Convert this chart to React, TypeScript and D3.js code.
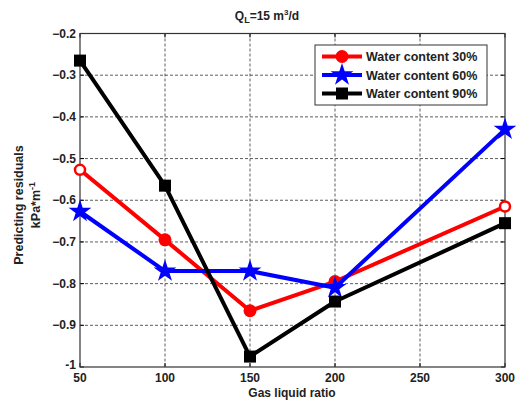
import React from 'react';
import * as d3 from 'd3';

// values
const gasLiquidRatio = [50, 100, 150, 200, 300];
const water30 = [-0.527, -0.695, -0.865, -0.795, -0.615];
const water60 = [-0.627, -0.77, -0.77, -0.81, -0.43];
const water90 = [-0.265, -0.565, -0.975, -0.843, -0.655];
const xTicks = [50, 100, 150, 200, 250, 300];
const yTicks = [-0.2, -0.3, -0.4, -0.5, -0.6, -0.7, -0.8, -0.9, -1];
const seriesNames = ['Water content 30%', 'Water content 60%', 'Water content 90%'];

const width = 525;
const height = 408;
const margin = { left: 80, right: 20, top: 33.5, bottom: 41 };
const font = 'Arial, "Liberation Sans", sans-serif';

const x = d3.scaleLinear().domain([50, 300]).range([margin.left, width - margin.right]);
const y = d3.scaleLinear().domain([-1, -0.2]).range([height - margin.bottom, margin.top]);

const series = [
  { name: seriesNames[0], values: water30, color: '#ff0000', marker: 'circle' },
  { name: seriesNames[1], values: water60, color: '#0000ff', marker: 'star' },
  { name: seriesNames[2], values: water90, color: '#000000', marker: 'square' },
];

const line = d3.line<number>()
  .x((_, i) => x(gasLiquidRatio[i]))
  .y(d => y(d));

const starPath = d3.symbol().type(d3.symbolStar).size(160)() as string;

function Marker({ type, cx, cy, color, ring }: { type: string; cx: number; cy: number; color: string; ring?: boolean }) {
  if (type === 'circle') {
    // the circles sitting on the axis edges look hollow in the reference
    return ring
      ? <circle cx={cx} cy={cy} r={5} fill="#fff" stroke={color} strokeWidth={2.5} />
      : <circle cx={cx} cy={cy} r={6.5} fill={color} />;
  }
  if (type === 'square') return <rect x={cx - 6} y={cy - 6} width={12} height={12} fill={color} />;
  return <path d={starPath} transform={`translate(${cx},${cy})`} fill={color} />;
}

function fmt(v: number) {
  return v === -1 ? '-1' : d3.format('.1f')(v);
}

export default function App() {
  const x0 = margin.left;
  const x1 = width - margin.right;
  const y0 = margin.top;
  const y1 = height - margin.bottom;
  const lx = 315, ly = 45;
  return (
    <svg width={width} height={height} style={{ position: 'absolute', left: 0, top: 0, background: '#fff' }}
      fontFamily={font} fontWeight="bold">
      <rect width={width} height={height} fill="#fff" />
      {/* grid */}
      {xTicks.slice(1, -1).map(t => (
        <line key={'gx' + t} x1={x(t)} x2={x(t)} y1={y0} y2={y1} stroke="#333" strokeWidth={0.8} strokeDasharray="3,2" />
      ))}
      {yTicks.slice(1, -1).map(t => (
        <line key={'gy' + t} x1={x0} x2={x1} y1={y(t)} y2={y(t)} stroke="#333" strokeWidth={0.8} strokeDasharray="3,2" />
      ))}
      {/* ticks inside */}
      {xTicks.map(t => (
        <g key={'tx' + t}>
          <line x1={x(t)} x2={x(t)} y1={y1} y2={y1 - 4} stroke="#000" />
          <line x1={x(t)} x2={x(t)} y1={y0} y2={y0 + 4} stroke="#000" />
          <text x={x(t)} y={y1 + 15} fontSize={12} textAnchor="middle" fill="#222">{t}</text>
        </g>
      ))}
      {yTicks.map(t => (
        <g key={'ty' + t}>
          <line x1={x0} x2={x0 + 4} y1={y(t)} y2={y(t)} stroke="#000" />
          <line x1={x1} x2={x1 - 4} y1={y(t)} y2={y(t)} stroke="#000" />
          <text x={x0 - 4} y={y(t) + (t === -1 ? 2 : 4)} fontSize={12} textAnchor="end" fill="#222">{fmt(t)}</text>
        </g>
      ))}
      <rect x={x0} y={y0} width={x1 - x0} height={y1 - y0} fill="none" stroke="#333" strokeWidth={1.2} />
      {/* series */}
      {series.map(s => (
        <g key={s.name}>
          <path d={line(s.values) as string} fill="none" stroke={s.color} strokeWidth={4} strokeLinejoin="round" />
          {s.values.map((v, i) => (
            <Marker key={i} type={s.marker} cx={x(gasLiquidRatio[i])} cy={y(v)} color={s.color}
              ring={i === 0 || i === s.values.length - 1} />
          ))}
        </g>
      ))}
      {/* legend */}
      <rect x={lx} y={ly} width={172} height={60} fill="#fff" stroke="#333" strokeWidth={1} />
      {series.map((s, i) => {
        const cy = ly + 11.5 + i * 18.5;
        return (
          <g key={'lg' + s.name}>
            <line x1={lx + 7} x2={lx + 47} y1={cy} y2={cy} stroke={s.color} strokeWidth={4} />
            <Marker type={s.marker} cx={lx + 27} cy={cy} color={s.color} />
            <text x={lx + 51} y={cy + 4.5} fontSize={12.5} fill="#222">{s.name}</text>
          </g>
        );
      })}
      {/* titles */}
      <text x={267} y={20} fontSize={12} textAnchor="middle" fill="#222">
        Q<tspan fontSize={9} dy={3}>L</tspan><tspan dy={-3}>=15 m</tspan><tspan fontSize={8} dy={-5}>3</tspan><tspan dy={5}>/d</tspan>
      </text>
      <text x={292} y={397} fontSize={12} textAnchor="middle" fill="#222">Gas liquid ratio</text>
      <text transform="translate(23,205) rotate(-90)" fontSize={12.5} textAnchor="middle" fill="#222">Predicting residuals</text>
      <text transform="translate(40,205) rotate(-90)" fontSize={12.5} textAnchor="middle" fill="#222">
        kPa*m<tspan fontSize={9} dy={-5}>-1</tspan>
      </text>
    </svg>
  );
}
